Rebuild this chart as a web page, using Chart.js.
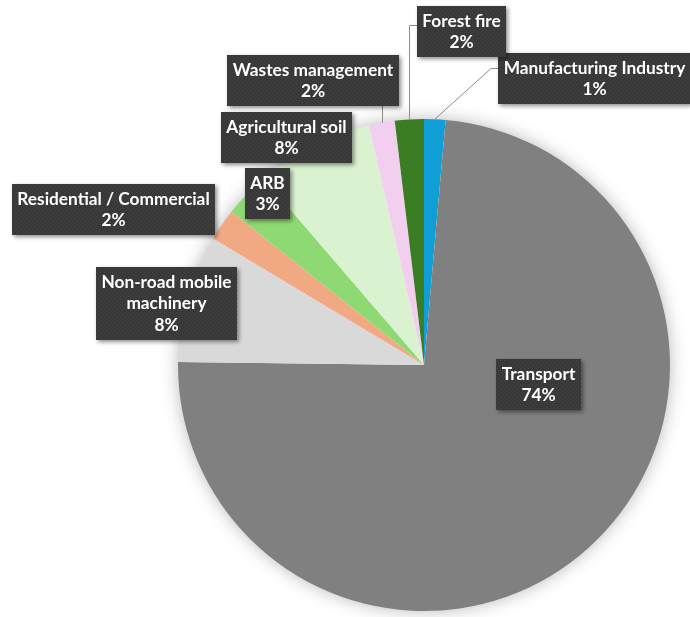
<!DOCTYPE html>
<html>
<head>
<meta charset="utf-8">
<script src="https://cdn.jsdelivr.net/npm/chart.js@4/dist/chart.umd.min.js"></script>
<style>
  html, body { margin: 0; padding: 0; background: #ffffff; }
  #wrap { width: 690px; height: 617px; position: relative; }
</style>
</head>
<body>
<div id="wrap"><canvas id="myChart"></canvas></div>
<script>
// data, clockwise from 12 o'clock
var categories = ["Manufacturing Industry", "Transport", ["Non-road mobile", "machinery"],
    "Residential / Commercial", "ARB", "Agricultural soil", "Wastes management", "Forest fire"];
var shares = [1.4, 73.8, 8.4, 2.1, 3.0, 7.7, 1.7, 1.9];
var colors = ["#0F9ED5", "#808080", "#D9D9D9", "#F1A983", "#8ED973", "#DAF2D0", "#F2CEEF", "#3B7D23"];

// label boxes: centre offset from pie centre (in units of radius), leader style
var labelPlace = [
    { dx: 0.694, dy: -1.165, leader: "diag" },
    { dx: 0.467, dy: 0.079, leader: "none" },
    { dx: -1.046, dy: -0.252, leader: "none" },
    { dx: -1.262, dy: -0.632, leader: "none" },
    { dx: -0.636, dy: -0.697, leader: "none" },
    { dx: -0.558, dy: -0.923, leader: "none" },
    { dx: -0.450, dy: -1.157, leader: "up" },
    { dx: 0.153, dy: -1.354, leader: "elbow" }
];

var FONT = "bold 17.3px Lato, 'Liberation Sans', sans-serif";
var LINE_H = 21.5;

function makePattern(ctx) {
    var c = document.createElement("canvas");
    c.width = 4; c.height = 4;
    var p = c.getContext("2d");
    p.fillStyle = "#383838";
    p.fillRect(0, 0, 4, 4);
    p.fillStyle = "#474747";
    p.fillRect(0, 0, 1, 1);
    p.fillRect(2, 2, 1, 1);
    return ctx.createPattern(c, "repeat");
}

var pieShadow = {
    id: "pieShadow",
    beforeDatasetsDraw: function(chart) {
        var arc = chart.getDatasetMeta(0).data[0];
        if (!arc) return;
        var ctx = chart.ctx;
        ctx.save();
        ctx.shadowColor = "rgba(0,0,0,0.3)";
        ctx.shadowBlur = 18;
        ctx.fillStyle = "#ffffff";
        ctx.beginPath();
        ctx.arc(arc.x, arc.y, arc.outerRadius - 1, 0, Math.PI * 2);
        ctx.fill();
        ctx.restore();
    }
};

var boxLabels = {
    id: "boxLabels",
    afterDatasetsDraw: function(chart) {
        var ctx = chart.ctx;
        var meta = chart.getDatasetMeta(0);
        var pattern = makePattern(ctx);
        ctx.save();
        ctx.font = FONT;
        meta.data.forEach(function(arc, i) {
            var name = categories[i];
            var lines = (Array.isArray(name) ? name.slice() : [name]);
            lines.push(Math.round(shares[i]) + "%");
            var w = 0;
            lines.forEach(function(s) { w = Math.max(w, ctx.measureText(s).width); });
            var bw = Math.round(w + 11);
            var bh = Math.round(lines.length * LINE_H + 8);
            var pl = labelPlace[i];
            var cx = arc.x + pl.dx * arc.outerRadius;
            var cy = arc.y + pl.dy * arc.outerRadius;
            var left = Math.round(cx - bw / 2), top = Math.round(cy - bh / 2);

            // leader line from the rim at the slice middle
            var mid = (arc.startAngle + arc.endAngle) / 2;
            var rx = arc.x + Math.cos(mid) * arc.outerRadius;
            var ry = arc.y + Math.sin(mid) * arc.outerRadius;
            ctx.strokeStyle = "#8c8c8c";
            ctx.lineWidth = 1;
            if (pl.leader == "up") {
                ctx.beginPath();
                ctx.moveTo(Math.round(rx) + 0.5, ry);
                ctx.lineTo(Math.round(rx) + 0.5, top + bh);
                ctx.stroke();
            } else if (pl.leader == "elbow") {
                ctx.beginPath();
                ctx.moveTo(Math.round(rx) + 0.5, ry);
                ctx.lineTo(Math.round(rx) + 0.5, top + 19.5);
                ctx.lineTo(left, top + 19.5);
                ctx.stroke();
            } else if (pl.leader == "diag") {
                ctx.beginPath();
                ctx.moveTo(rx, ry);
                ctx.lineTo(left - 7, top + 15.5);
                ctx.lineTo(left, top + 15.5);
                ctx.stroke();
            }

            ctx.save();
            ctx.shadowColor = "rgba(0,0,0,0.45)";
            ctx.shadowBlur = 4;
            ctx.shadowOffsetX = 2;
            ctx.shadowOffsetY = 2;
            ctx.fillStyle = pattern;
            ctx.fillRect(left, top, bw, bh);
            ctx.restore();

            ctx.fillStyle = "#ffffff";
            ctx.textAlign = "center";
            ctx.textBaseline = "middle";
            lines.forEach(function(s, k) {
                ctx.fillText(s, left + bw / 2, top + 4.5 + LINE_H * (k + 0.5));
            });
        });
        ctx.restore();
    }
};

new Chart(document.getElementById("myChart"), {
    type: "pie",
    data: {
        labels: categories,
        datasets: [{
            data: shares,
            backgroundColor: colors,
            borderWidth: 0
        }]
    },
    options: {
        responsive: true,
        maintainAspectRatio: false,
        animation: false,
        layout: { padding: { left: 178, right: 20, top: 119, bottom: 6 } },
        plugins: {
            legend: { display: false },
            tooltip: { enabled: false }
        }
    },
    plugins: [pieShadow, boxLabels]
});
</script>
</body>
</html>
